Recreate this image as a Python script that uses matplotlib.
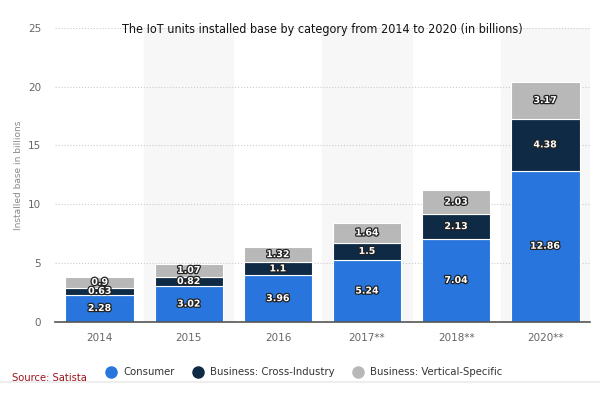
import matplotlib.pyplot as plt
import matplotlib.patheffects as pe
from matplotlib.lines import Line2D
import numpy as np

years = ["2014", "2015", "2016", "2017**", "2018**", "2020**"]
consumer = [2.28, 3.02, 3.96, 5.24, 7.04, 12.86]
cross_industry = [0.63, 0.82, 1.1, 1.5, 2.13, 4.38]
vertical = [0.9, 1.07, 1.32, 1.64, 2.03, 3.17]

series = [
    ("Consumer", consumer, "#2876dd"),
    ("Business: Cross-Industry", cross_industry, "#0f2a44"),
    ("Business: Vertical-Specific", vertical, "#b8b8b8"),
]

fig = plt.figure(figsize=(6, 3.93), dpi=100)
ax = fig.add_axes([0.092, 0.181, 0.891, 0.748])

x = np.arange(len(years))
# alternating background bands
for i in x[1::2]:
    ax.axvspan(i - 0.5, i + 0.5, color="#f7f7f7", zorder=0)

bottom = np.zeros(len(years))
stroke = [pe.withStroke(linewidth=1.8, foreground="#222222")]
for name, vals, col in series:
    vals = np.array(vals)
    ax.bar(x, vals, 0.77, bottom=bottom, color=col, edgecolor="white",
           linewidth=0.8, zorder=3, label=name)
    for xi, b, v in zip(x, bottom, vals):
        ax.text(xi, b + v / 2, f"{v:g}", ha="center", va="center",
                color="white", fontsize=6.8, fontweight="bold",
                path_effects=stroke, zorder=4)
    bottom += vals

ax.set_xlim(-0.5, len(years) - 0.5)
ax.set_ylim(0, 25)
ax.set_yticks([0, 5, 10, 15, 20, 25])
ax.set_xticks(x)
ax.set_xticklabels(years)
ax.yaxis.grid(True, linestyle=":", color="#cccccc", linewidth=0.8, zorder=1)
ax.set_axisbelow(True)
for s in ["top", "right", "left"]:
    ax.spines[s].set_visible(False)
ax.spines["bottom"].set_color("#555555")
ax.spines["bottom"].set_linewidth(1.2)
ax.spines["bottom"].set_zorder(5)
ax.tick_params(axis="both", length=0, labelsize=7.5, colors="#666666")
ax.tick_params(axis="y", pad=10)
ax.tick_params(axis="x", pad=8)
ax.set_ylabel("Installed base in billions", fontsize=6.5, color="#888888", labelpad=4)

ax.text(0.5, 0.995, "The IoT units installed base by category from 2014 to 2020 (in billions)",
        transform=ax.transAxes, ha="center", va="center", fontsize=9,
        color="#111111", family="DejaVu Sans", fontstretch="condensed", zorder=6)

handles = [Line2D([0], [0], marker="o", linestyle="", markersize=8,
                  markerfacecolor=c, markeredgecolor=c) for _, _, c in series]
fig.legend(handles, [n for n, _, _ in series], loc="center", ncol=3,
           bbox_to_anchor=(0.503, 0.053), frameon=False, fontsize=7.3,
           handletextpad=0.2, columnspacing=1.3, labelcolor="#333333")

fig.text(0.02, 0.038, "Source: Satista", color="#a0141e", fontsize=7.2, va="center")
fig.add_artist(Line2D([0, 1], [0.028, 0.028], color="#eeeeee", linewidth=1.5,
                      transform=fig.transFigure))

fig.savefig("out.png", dpi=100)
